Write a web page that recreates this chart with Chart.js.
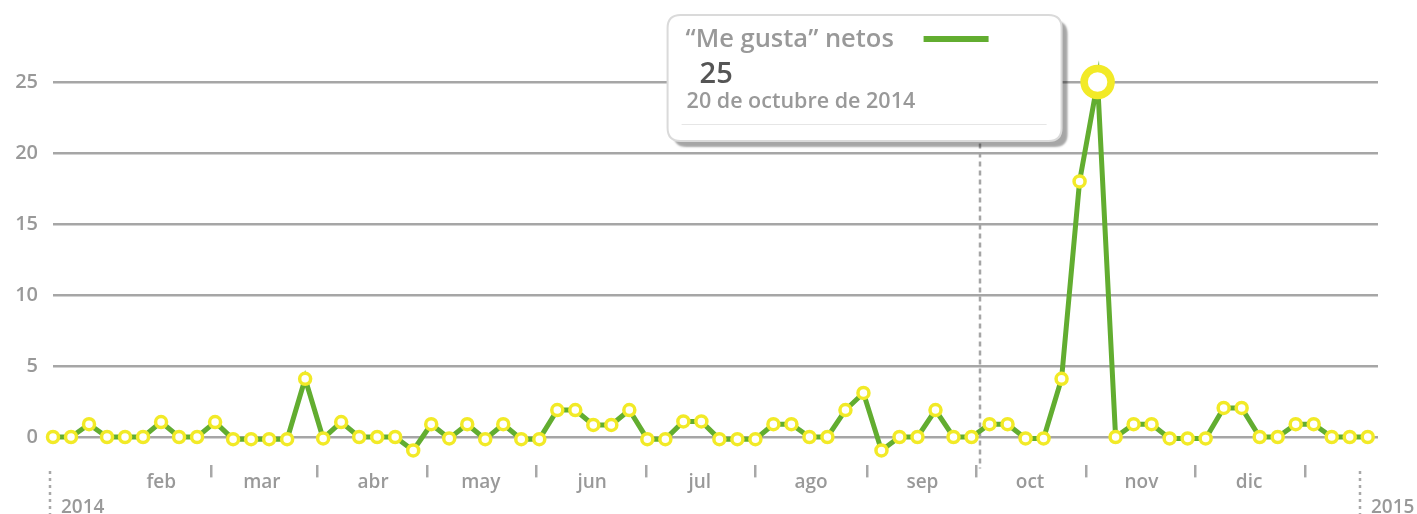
<!DOCTYPE html>
<html>
<head>
<meta charset="utf-8">
<script src="https://cdn.jsdelivr.net/npm/chart.js@4/dist/chart.umd.min.js"></script>
<style>
  html, body { margin: 0; padding: 0; background: #fff; }
  #wrap { width: 1417px; height: 514px; position: relative; }
</style>
</head>
<body>
<div id="wrap"><canvas id="likesChart"></canvas></div>
<script>
// serie: "Me gusta" netos, un punto cada 5 dias
const serieNombre = '\u201cMe gusta\u201d netos';
const valores = [
  0, 0, 0.9, 0, 0, 0, 1.05, 0, 0, 1.05,
  -0.15, -0.15, -0.15, -0.15, 4.1, -0.1, 1.05, 0, 0, 0,
  -0.95, 0.9, -0.1, 0.9, -0.15, 0.9, -0.15, -0.15, 1.9, 1.9,
  0.85, 0.85, 1.9, -0.15, -0.15, 1.1, 1.1, -0.15, -0.15, -0.15,
  0.9, 0.9, 0, 0, 1.9, 3.1, -0.95, 0, 0, 1.9,
  0, 0, 0.9, 0.9, -0.1, -0.1, 4.1, 18, 25, 0,
  0.9, 0.9, -0.1, -0.1, -0.1, 2.05, 2.05, 0, 0, 0.9,
  0.9, 0, 0, 0
];
const fechas = [
  '2014-01-03', '2014-01-08', '2014-01-13', '2014-01-18', '2014-01-23', '2014-01-28',
  '2014-02-02', '2014-02-07', '2014-02-12', '2014-02-17', '2014-02-22', '2014-02-27',
  '2014-03-04', '2014-03-09', '2014-03-14', '2014-03-19', '2014-03-24', '2014-03-29',
  '2014-04-03', '2014-04-08', '2014-04-13', '2014-04-18', '2014-04-23', '2014-04-28',
  '2014-05-03', '2014-05-08', '2014-05-13', '2014-05-18', '2014-05-23', '2014-05-28',
  '2014-06-02', '2014-06-07', '2014-06-12', '2014-06-17', '2014-06-22', '2014-06-27',
  '2014-07-02', '2014-07-07', '2014-07-12', '2014-07-17', '2014-07-22', '2014-07-27',
  '2014-08-01', '2014-08-06', '2014-08-11', '2014-08-16', '2014-08-21', '2014-08-26',
  '2014-08-31', '2014-09-05', '2014-09-10', '2014-09-15', '2014-09-20', '2014-09-25',
  '2014-09-30', '2014-10-05', '2014-10-10', '2014-10-15', '2014-10-20', '2014-10-25',
  '2014-10-30', '2014-11-04', '2014-11-09', '2014-11-14', '2014-11-19', '2014-11-24',
  '2014-11-29', '2014-12-04', '2014-12-09', '2014-12-14', '2014-12-19', '2014-12-24',
  '2014-12-29', '2015-01-03'
];
const destacado = 58; // punto con la caja de detalle

// eje Y
const ticksY = [0, 5, 10, 15, 20, 25];

// eje X de meses (dia del anio en que empieza cada mes)
const diasMes = [31, 59, 90, 120, 151, 181, 212, 243, 273, 304, 334, 365];
const etiquetasMes = ['feb', 'mar', 'abr', 'may', 'jun', 'jul', 'ago', 'sep', 'oct', 'nov', 'dic', ''];
const diasAnio = [0, 365];
const etiquetasAnio = ['2014', '2015'];
const diaMarca = 259;
const mesesLargos = ['enero', 'febrero', 'marzo', 'abril', 'mayo', 'junio', 'julio',
  'agosto', 'septiembre', 'octubre', 'noviembre', 'diciembre'];

const VERDE = '#62ad30';
const AMARILLO = '#f2ea27';
const GRIS = '#999';
const FUENTE = "'Open Sans', 'Noto Sans', sans-serif";

function fechaLarga(iso) {
  const p = iso.split('-');
  return parseInt(p[2], 10) + ' de ' + mesesLargos[parseInt(p[1], 10) - 1] + ' de ' + p[0];
}

function roundRect(ctx, x, y, w, h, r) {
  ctx.beginPath();
  ctx.moveTo(x + r, y);
  ctx.lineTo(x + w - r, y);
  ctx.quadraticCurveTo(x + w, y, x + w, y + r);
  ctx.lineTo(x + w, y + h - r);
  ctx.quadraticCurveTo(x + w, y + h, x + w - r, y + h);
  ctx.lineTo(x + r, y + h);
  ctx.quadraticCurveTo(x, y + h, x, y + h - r);
  ctx.lineTo(x, y + r);
  ctx.quadraticCurveTo(x, y, x + r, y);
  ctx.closePath();
}

// lineas punteadas (marca y anios)
const marcasPlugin = {
  id: 'marcas',
  beforeDatasetsDraw(chart) {
    const ctx = chart.ctx;
    const x2 = chart.scales.x2;
    const area = chart.chartArea;
    ctx.save();
    ctx.strokeStyle = '#a5a5a5';
    ctx.lineWidth = 2.5;
    ctx.setLineDash([5, 4]);
    const mx = Math.round(x2.getPixelForValue(diaMarca));
    ctx.beginPath();
    ctx.moveTo(mx, area.top);
    ctx.lineTo(mx, area.bottom + 3);
    ctx.stroke();
    ctx.restore();
  },
  afterDraw(chart) {
    const ctx = chart.ctx;
    const x2 = chart.scales.x2;
    ctx.save();
    diasAnio.forEach((d, i) => {
      const x = Math.round(x2.getPixelForValue(d));
      ctx.strokeStyle = '#a8a8a8';
      ctx.lineWidth = 2.5;
      ctx.setLineDash([3, 4]);
      ctx.beginPath();
      ctx.moveTo(x, 471);
      ctx.lineTo(x, 514);
      ctx.stroke();
      ctx.setLineDash([]);
      ctx.fillStyle = GRIS;
      ctx.font = '600 19px ' + FUENTE;
      ctx.textAlign = 'left';
      ctx.textBaseline = 'alphabetic';
      ctx.fillText(etiquetasAnio[i], x + 11, 513);
    });
    ctx.restore();
  }
};

// caja de detalle del punto destacado
const cajaPlugin = {
  id: 'caja',
  afterDraw(chart) {
    const ctx = chart.ctx;
    const pt = chart.getDatasetMeta(0).data[destacado];
    const bx = pt.x - 430, by = 15, bw = 394, bh = 126;
    ctx.save();
    ctx.shadowColor = 'rgba(0,0,0,0.35)';
    ctx.shadowOffsetX = 6;
    ctx.shadowOffsetY = 6;
    ctx.shadowBlur = 2;
    roundRect(ctx, bx, by, bw, bh, 13);
    ctx.fillStyle = '#fff';
    ctx.fill();
    ctx.restore();

    ctx.save();
    roundRect(ctx, bx, by, bw, bh, 13);
    ctx.strokeStyle = '#dadada';
    ctx.lineWidth = 2;
    ctx.stroke();

    ctx.textAlign = 'left';
    ctx.textBaseline = 'alphabetic';
    ctx.fillStyle = GRIS;
    ctx.font = '600 25.5px ' + FUENTE;
    ctx.fillText(serieNombre, bx + 18, by + 32);

    ctx.strokeStyle = VERDE;
    ctx.lineWidth = 6;
    ctx.beginPath();
    ctx.moveTo(bx + 256, by + 24);
    ctx.lineTo(bx + 321, by + 24);
    ctx.stroke();

    ctx.fillStyle = '#555';
    ctx.font = '600 29px ' + FUENTE;
    ctx.fillText(String(valores[destacado]), bx + 32, by + 68);

    ctx.fillStyle = GRIS;
    ctx.font = '600 21.5px ' + FUENTE;
    ctx.fillText(fechaLarga(fechas[destacado]), bx + 19, by + 93);

    ctx.strokeStyle = '#e6e6e6';
    ctx.lineWidth = 1;
    ctx.beginPath();
    ctx.moveTo(bx + 14, by + 109.5);
    ctx.lineTo(bx + 379, by + 109.5);
    ctx.stroke();
    ctx.restore();
  }
};

const puntos = valores.map((v, i) => ({ x: i, y: v }));

new Chart(document.getElementById('likesChart'), {
  type: 'line',
  data: {
    datasets: [{
      label: serieNombre,
      data: puntos,
      borderColor: VERDE,
      borderWidth: 5,
      tension: 0,
      pointRadius: ctx => ctx.dataIndex === destacado ? 13.5 : 5.5,
      pointBorderWidth: ctx => ctx.dataIndex === destacado ? 7.5 : 3.5,
      pointBackgroundColor: '#fff',
      pointBorderColor: AMARILLO,
      clip: false
    }]
  },
  options: {
    responsive: true,
    maintainAspectRatio: false,
    animation: false,
    events: [],
    layout: { padding: { top: 53.6, right: 39, left: 0, bottom: 0 } },
    plugins: {
      legend: { display: false },
      tooltip: { enabled: false }
    },
    scales: {
      x: {
        type: 'linear',
        display: false,
        min: 0,
        max: 73.57
      },
      x2: {
        type: 'linear',
        position: 'bottom',
        min: 0.836,
        max: 369.9,
        afterBuildTicks: axis => { axis.ticks = diasMes.map(v => ({ value: v })); },
        afterFit: axis => { axis.height = 48.6; },
        border: { display: false },
        grid: {
          offset: true,
          drawOnChartArea: false,
          drawTicks: true,
          tickLength: 12,
          lineWidth: 2.5,
          color: ctx => ctx.index === 0 ? 'rgba(0,0,0,0)' : '#a8a8a8'
        },
        ticks: {
          autoSkip: false,
          maxRotation: 0,
          padding: -6,
          color: GRIS,
          font: { family: FUENTE, size: 19, weight: '600' },
          callback: (v, i) => etiquetasMes[i]
        }
      },
      y: {
        min: -2,
        max: 27,
        afterBuildTicks: axis => { axis.ticks = ticksY.map(v => ({ value: v })); },
        afterFit: axis => { axis.width = 53; },
        border: { display: false },
        grid: {
          drawTicks: false,
          color: '#a6a6a6',
          lineWidth: 2.5
        },
        ticks: {
          padding: 15,
          color: GRIS,
          font: { family: FUENTE, size: 20, weight: '600' }
        }
      }
    }
  },
  plugins: [marcasPlugin, cajaPlugin]
});
</script>
</body>
</html>
